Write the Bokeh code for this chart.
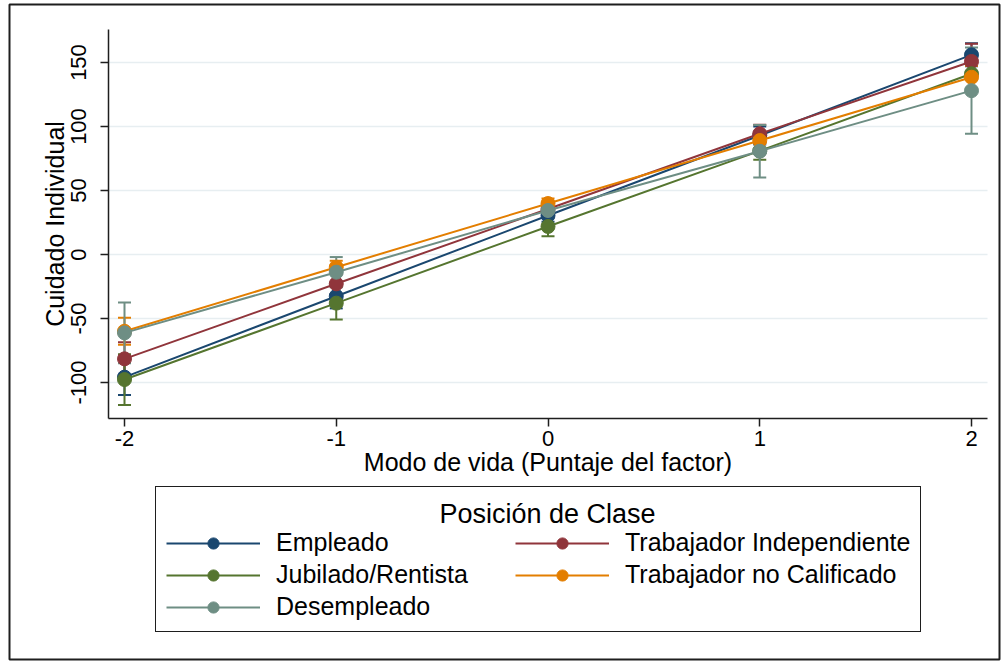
from bokeh.plotting import figure
from bokeh.models import (Range1d, FixedTicker, Legend, LegendItem, Label,
                          ColumnDataSource, BoxAnnotation, CustomJSTickFormatter)
from bokeh.embed import file_html
from bokeh.resources import INLINE

# ---- data ----
x_vals = [-2, -1, 0, 1, 2]
series_names = ["Empleado", "Trabajador Independiente", "Jubilado/Rentista",
                "Trabajador no Calificado", "Desempleado"]
empleado = [-95.8, -32.6, 30.5, 93.0, 156.0]
trab_indep = [-81.5, -22.9, 35.5, 94.3, 150.8]
jubilado = [-97.7, -38.0, 21.9, 81.0, 141.2]
no_calif = [-60.0, -9.9, 39.8, 89.0, 138.5]
desempleado = [-61.2, -13.8, 34.4, 80.7, 128.0]
# half-widths of the 95% confidence intervals
ci_empleado = [14.0, 9.5, 5.0, 7.0, 9.0]
ci_trab_indep = [13.0, 8.0, 5.0, 7.0, 13.8]
ci_jubilado = [19.8, 12.8, 7.6, 7.0, 12.0]
ci_no_calif = [10.5, 5.0, 4.0, 6.0, 9.0]
ci_desempleado = [23.7, 11.8, 6.0, 20.5, 33.7]
x_ticks = [-2, -1, 0, 1, 2]
y_ticks = [-100, -50, 0, 50, 100, 150]
legend_title = "Posición de Clase"

values = [empleado, trab_indep, jubilado, no_calif, desempleado]
cis = [ci_empleado, ci_trab_indep, ci_jubilado, ci_no_calif, ci_desempleado]
colors = ["#1a476f", "#90353b", "#55752f", "#e37e00", "#6e8e84"]

FONT = "Liberation Sans"
AX = "#1e1e1e"

# plot-region limits (data units) and full canvas ranges
X_LO, X_HI = -2.0756, 2.0756
Y_LO, Y_HI = -128.1, 175.8

p = figure(width=1002, height=661, output_backend="svg", toolbar_location=None,
           x_range=Range1d(-2.5856, 2.1464), y_range=Range1d(-317.97, 198.44),
           min_border=0)
p.outline_line_color = None
p.background_fill_color = "white"
p.border_fill_color = "white"
p.grid.grid_line_color = None

fmt = CustomJSTickFormatter(code="return String(tick);")
p.xaxis.ticker = FixedTicker(ticks=x_ticks)
p.yaxis.ticker = FixedTicker(ticks=y_ticks)
p.xaxis.fixed_location = Y_LO
p.yaxis.fixed_location = X_LO
p.xaxis.bounds = (X_LO, X_HI)
p.yaxis.bounds = (Y_LO, Y_HI)
for ax in (p.xaxis[0], p.yaxis[0]):
    ax.formatter = fmt
    ax.axis_line_color = AX
    ax.axis_line_width = 1.5
    ax.major_tick_line_color = AX
    ax.major_tick_line_width = 1.5
    ax.major_tick_out = 8
    ax.major_tick_in = 0
    ax.minor_tick_line_color = None
    ax.major_label_text_font = FONT
    ax.major_label_text_font_size = "22px"
    ax.major_label_text_color = "black"
    ax.axis_label_text_font = FONT
    ax.axis_label_text_font_size = "25px"
    ax.axis_label_text_font_style = "normal"
    ax.axis_label_text_color = "black"

p.xaxis.axis_label = "Modo de vida (Puntaje del factor)"
p.xaxis.major_label_standoff = 5
p.xaxis.axis_label_standoff = -2
p.yaxis.axis_label = "Cuidado Individual"
p.yaxis.major_label_orientation = "vertical"
p.yaxis.major_label_standoff = 14
p.yaxis.axis_label_standoff = 0

# horizontal gridlines across the plot region
p.segment(x0=[X_LO] * len(y_ticks), x1=[X_HI] * len(y_ticks), y0=y_ticks, y1=y_ticks,
          line_color="#e7eef1", line_width=1.5)

# confidence intervals (capped spikes)
for vals, ci, col in zip(values, cis, colors):
    lo = [v - c for v, c in zip(vals, ci)]
    hi = [v + c for v, c in zip(vals, ci)]
    src = ColumnDataSource(dict(x=x_vals, lo=lo, hi=hi))
    p.segment(x0="x", x1="x", y0="lo", y1="hi", source=src, line_color=col, line_width=2)
    p.scatter("x", "lo", source=src, marker="dash", size=13, line_color=col, line_width=2)
    p.scatter("x", "hi", source=src, marker="dash", size=13, line_color=col, line_width=2)

items = []
for name, vals, col in zip(series_names, values, colors):
    src = ColumnDataSource(dict(x=x_vals, y=vals))
    ln = p.line("x", "y", source=src, line_color=col, line_width=2)
    sc = p.scatter("x", "y", source=src, size=14, fill_color=col, line_color=col)
    items.append(LegendItem(label=name, renderers=[ln, sc]))

legend = Legend(items=items, location=(155, 29), title=" ", ncols=2,
                orientation="horizontal",
                glyph_width=94, glyph_height=28, label_standoff=16, label_width=236,
                padding=10, spacing=3, margin=0,
                label_text_font=FONT, label_text_font_size="25px",
                label_text_color="black",
                title_text_font=FONT, title_text_font_size="22px",
                border_line_color=AX, border_line_width=1.5, border_line_alpha=1.0,
                background_fill_color="white", background_fill_alpha=0.0)
p.add_layout(legend, "center")

# centred legend title
p.add_layout(Label(x=547, y=148, x_units="screen", y_units="screen",
                   text=legend_title, text_align="center", text_baseline="middle",
                   text_font=FONT, text_font_size="27px", text_color="black"))

p.add_layout(BoxAnnotation(left=9, right=999, top=657, bottom=2,
                           left_units="screen", right_units="screen",
                           top_units="screen", bottom_units="screen",
                           fill_alpha=0, line_color=AX, line_alpha=1.0, line_width=2))

open("out.html", "w").write(file_html(p, INLINE))
